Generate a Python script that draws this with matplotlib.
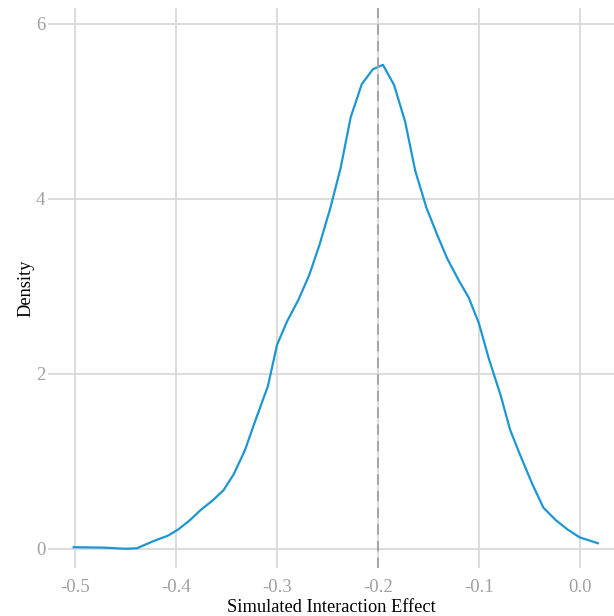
import numpy as np
import matplotlib.pyplot as plt

# Densidad
effect = [-0.5016, -0.472, -0.450, -0.439, -0.423, -0.408, -0.398, -0.386, -0.376,
          -0.363, -0.353, -0.343, -0.332, -0.321, -0.309, -0.300, -0.290, -0.279,
          -0.268, -0.258, -0.247, -0.237, -0.227, -0.216, -0.205, -0.195, -0.184,
          -0.173, -0.163, -0.152, -0.141, -0.131, -0.120, -0.110, -0.100, -0.090,
          -0.078, -0.069, -0.059, -0.047, -0.036, -0.024, -0.012, 0.000, 0.018]
density = [0.018, 0.013, 0.0, 0.005, 0.085, 0.15, 0.22, 0.33, 0.44,
           0.56, 0.67, 0.85, 1.12, 1.48, 1.86, 2.33, 2.60, 2.84,
           3.13, 3.47, 3.90, 4.35, 4.93, 5.31, 5.48, 5.53, 5.30,
           4.88, 4.32, 3.90, 3.58, 3.31, 3.07, 2.87, 2.58, 2.17,
           1.74, 1.36, 1.07, 0.74, 0.47, 0.33, 0.22, 0.13, 0.063]
true_effect = -0.2

x_ticks = [-0.5, -0.4, -0.3, -0.2, -0.1, 0.0]
x_labels = ['-0.5', '-0.4', '-0.3', '-0.2', '-0.1', '0.0']
y_ticks = [0, 2, 4, 6]

plt.rcParams['font.family'] = ['Liberation Serif', 'DejaVu Serif']

fig = plt.figure(figsize=(6.14, 6.16), dpi=100)
ax = fig.add_axes([48 / 614, 1 - 568 / 616, (614 - 48) / 614, (568 - 8) / 616])

ax.plot(effect, density, color='#1d96d3', linewidth=1.6)
ax.axvline(true_effect, color='#a6a6a6', linestyle=(0, (5, 3)), linewidth=1.5)

ax.set_xlim(-0.527, 0.034)
ax.set_ylim(-0.22, 6.18)
ax.set_xticks(x_ticks)
ax.set_xticklabels(x_labels)
ax.set_yticks(y_ticks)

ax.grid(True, color='#d6d6d6', linewidth=1.2)
ax.set_axisbelow(True)
for s in ax.spines.values():
    s.set_visible(False)
ax.tick_params(length=0, labelsize=13.5, labelcolor='#a0a0a0')
ax.tick_params(axis='x', pad=8)
ax.tick_params(axis='y', pad=2)

ax.set_xlabel('Simulated Interaction Effect', fontsize=13.2, labelpad=2)
ax.set_ylabel('Density', fontsize=13.2, labelpad=1)

fig.savefig('out.png', dpi=100)
